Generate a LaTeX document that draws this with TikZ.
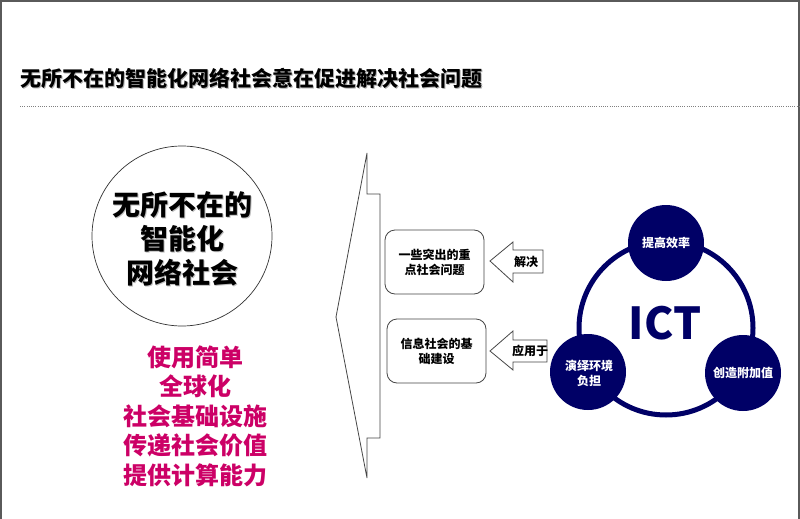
\documentclass[tikz,border=0pt]{standalone}
\usepackage{fontspec}
\setmainfont{Noto Sans CJK SC}
\definecolor{navy}{RGB}{0,0,102}
\definecolor{mag}{RGB}{204,0,102}
\definecolor{frame}{RGB}{90,90,90}
\definecolor{edge}{RGB}{70,70,70}
\begin{document}
\begin{tikzpicture}[x=1pt,y=-1pt,
  boxlbl/.style={align=center,font=\fontsize{12}{15}\selectfont\bfseries,inner sep=0pt},
  rbox/.style={draw=edge,line width=0.8pt,rounded corners=10pt},
  barrow/.style={draw=edge,line width=0.8pt,fill=white},
  wlbl/.style={align=center,text=white,font=\fontsize{12}{15}\selectfont\bfseries,inner sep=0pt},
  dot/.style={circle,fill=navy,minimum size=76pt,inner sep=0pt}]
\useasboundingbox (0,0) rectangle (800,519);
\fill[white] (0,0) rectangle (800,519);
% frame
\draw[frame,line width=2.5pt] (1.2,519) -- (1.2,1.2) -- (798.8,1.2) -- (798.8,519);
% title
\node[anchor=west,inner sep=0pt,text=gray!60,font=\fontsize{21}{24}\selectfont\bfseries] at (21.5,79.5) {无所不在的智能化网络社会意在促进解决社会问题};
\node (title)[anchor=west,inner sep=0pt,font=\fontsize{21}{24}\selectfont\bfseries] at (20,78) {无所不在的智能化网络社会意在促进解决社会问题};
\coordinate (dl) at (20,106);
\coordinate (dr) at (800,106);
\draw[gray,line width=0.6pt,dash pattern=on 1pt off 1.2pt] (dl) -- (dr);
% left circle
\node (ubi)[circle,draw=black!80,line width=0.7pt,minimum size=180pt] at (182,236) {};
\node[align=center,inner sep=0pt,text=gray!50,font=\fontsize{28}{34}\selectfont\bfseries] at (183.2,240.2) {无所不在的\\智能化\\网络社会};
\node (ubitxt)[align=center,inner sep=0pt,font=\fontsize{28}{34}\selectfont\bfseries] at (182,239) {无所不在的\\智能化\\网络社会};
\node (feat)[align=center,inner sep=0pt,text=mag,font=\fontsize{24}{29.5}\selectfont\bfseries] at (195,416) {使用简单\\全球化\\社会基础设施\\传递社会价值\\提供计算能力};
% bracket arrow
\draw[edge,line width=0.8pt] (367,153) -- (367,194) -- (380,194) -- (380,438) -- (367,438) -- (367,478) -- (336,317) -- cycle;
% boxes
\draw[rbox] (385,230) rectangle (484,294);
\node (b1)[boxlbl] at (434.5,262) {一些突出的重\\点社会问题};
\draw[rbox] (387,319) rectangle (486,383);
\node (b2)[boxlbl] at (436.5,351) {信息社会的基\\础建设};
% block arrows
\draw[barrow] (490,261) -- (513,242) -- (513,250) -- (543,250) -- (543,273) -- (513,273) -- (513,282) -- cycle;
\node (a1)[boxlbl] at (526,262) {解决};
\draw[barrow] (490,351) -- (513,331) -- (513,340) -- (547,340) -- (547,362) -- (513,362) -- (513,370) -- cycle;
\node (a2)[boxlbl] at (530,351) {应用于};
% ICT cycle
\node (ring)[circle,draw=navy,line width=5pt,minimum size=174pt,inner sep=0pt] at (666,328) {};
\node (ict)[text=navy,inner sep=0pt,font=\fontsize{44}{44}\selectfont\bfseries] at (665,323) {ICT};
\node (c1)[dot] at (666,243) {};
\node[wlbl] at (666,243) {提高效率};
\node (c2)[dot] at (588,372) {};
\node[wlbl] at (589,373) {演绎环境\\负担};
\node (c3)[dot] at (743,373) {};
\node[wlbl] at (743,373) {创造附加值};
\end{tikzpicture}
\end{document}
